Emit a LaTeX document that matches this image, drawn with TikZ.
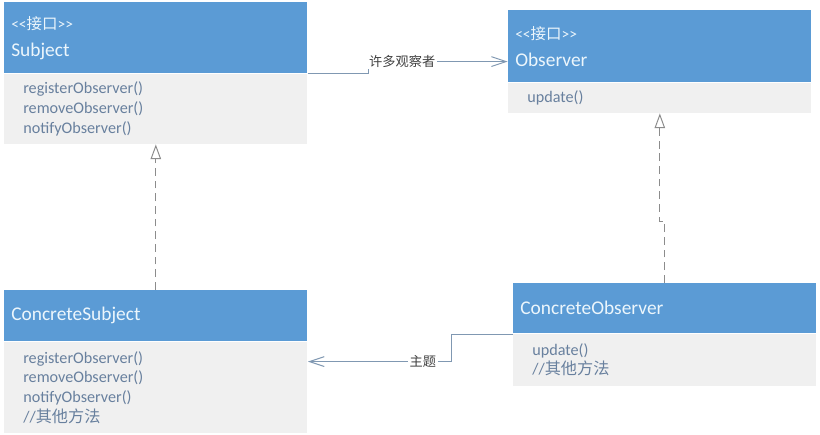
\documentclass[tikz,border=0pt]{standalone}
\usepackage{fontspec}
\setmainfont{Carlito}
\newfontfamily\cjk{Noto Sans CJK SC}
\usepackage{xcolor}
\definecolor{umlblue}{RGB}{91,155,213}
\definecolor{umlgray}{RGB}{240,240,240}
\definecolor{hdrtext}{RGB}{236,246,252}
\definecolor{bodytext}{RGB}{104,128,158}
\definecolor{linecol}{RGB}{128,152,178}
\definecolor{dashcol}{RGB}{140,140,140}
\definecolor{lbltext}{RGB}{64,64,64}
\usetikzlibrary{arrows.meta,positioning,fit}

\newcommand{\stereo}{{\fontsize{11}{13}\selectfont\textless\kern0pt\textless{\cjk 接口}\textgreater\kern0pt\textgreater}}

\tikzset{
  hdr/.style={fill=umlblue, anchor=north west, minimum width=7.575cm, text width=7.225cm,
    inner xsep=0.175cm, inner ysep=0pt, align=left, text=hdrtext, font=\fontsize{13.8}{19.2}\selectfont},
  body/.style={fill=umlgray, anchor=north west, minimum width=7.575cm, text width=6.625cm,
    inner xsep=0.475cm, inner ysep=0pt, align=left, text=bodytext, font=\fontsize{11.5}{14}\selectfont},
  whole/.style={inner sep=0pt},
  assoc/.style={draw=linecol, line width=0.7pt, -{Straight Barb[length=10.5pt, width=7pt]}},
  real/.style={draw=dashcol, line width=0.7pt, dash pattern=on 5.5pt off 3.5pt,
    -{Triangle[open, length=10.5pt, width=7.5pt, fill=white]}},
  lbl/.style={fill=white, inner sep=1pt, text=lbltext, font=\cjk\fontsize{9.4}{11}\selectfont}
}

\begin{document}
\begin{tikzpicture}[x=0.025cm, y=-0.025cm]
  \fill[white] (0,0) rectangle (820,434);
  \useasboundingbox (0,0) rectangle (820,434);

  % Subject
  \node[hdr, minimum height=1.775cm] (subjH) at (4,2) {\stereo\\Subject};
  \node[body, minimum height=1.75cm] (subjB) at (subjH.south west) {registerObserver()\\removeObserver()\\notifyObserver()};
  \node[whole, fit=(subjH)(subjB)] (subj) {};

  % Observer
  \node[hdr, minimum height=1.8cm] (obsH) at (508,10) {\stereo\\Observer};
  \node[body, minimum height=0.75cm] (obsB) at (obsH.south west) {update()};
  \node[whole, fit=(obsH)(obsB)] (obs) {};

  % ConcreteSubject
  \node[hdr, minimum height=1.275cm] (csubjH) at (4,290) {ConcreteSubject};
  \node[body, minimum height=2.275cm] (csubjB) at (csubjH.south west) {registerObserver()\\removeObserver()\\notifyObserver()\\//{\cjk 其他方法}};
  \node[whole, fit=(csubjH)(csubjB)] (csubj) {};

  % ConcreteObserver
  \node[hdr, minimum height=1.25cm] (cobsH) at (513,283) {ConcreteObserver};
  \node[body, minimum height=1.3cm] (cobsB) at (cobsH.south west) {update()\\//{\cjk 其他方法}};
  \node[whole, fit=(cobsH)(cobsB)] (cobs) {};

  % associations
  \draw[assoc] (subj.east) -- ++(61,0) |- node[lbl, pos=0.62] {许多观察者} (obs.west);
  \draw[assoc] (cobs.west) -- ++(-61,0) |- node[lbl, pos=0.6] {主题} (csubj.east);

  % realizations
  \draw[real] (csubj.north) -- (subj.south);
  \draw[real] (cobs.north) -- ++(0,-61) -| (obs.south);
\end{tikzpicture}
\end{document}
